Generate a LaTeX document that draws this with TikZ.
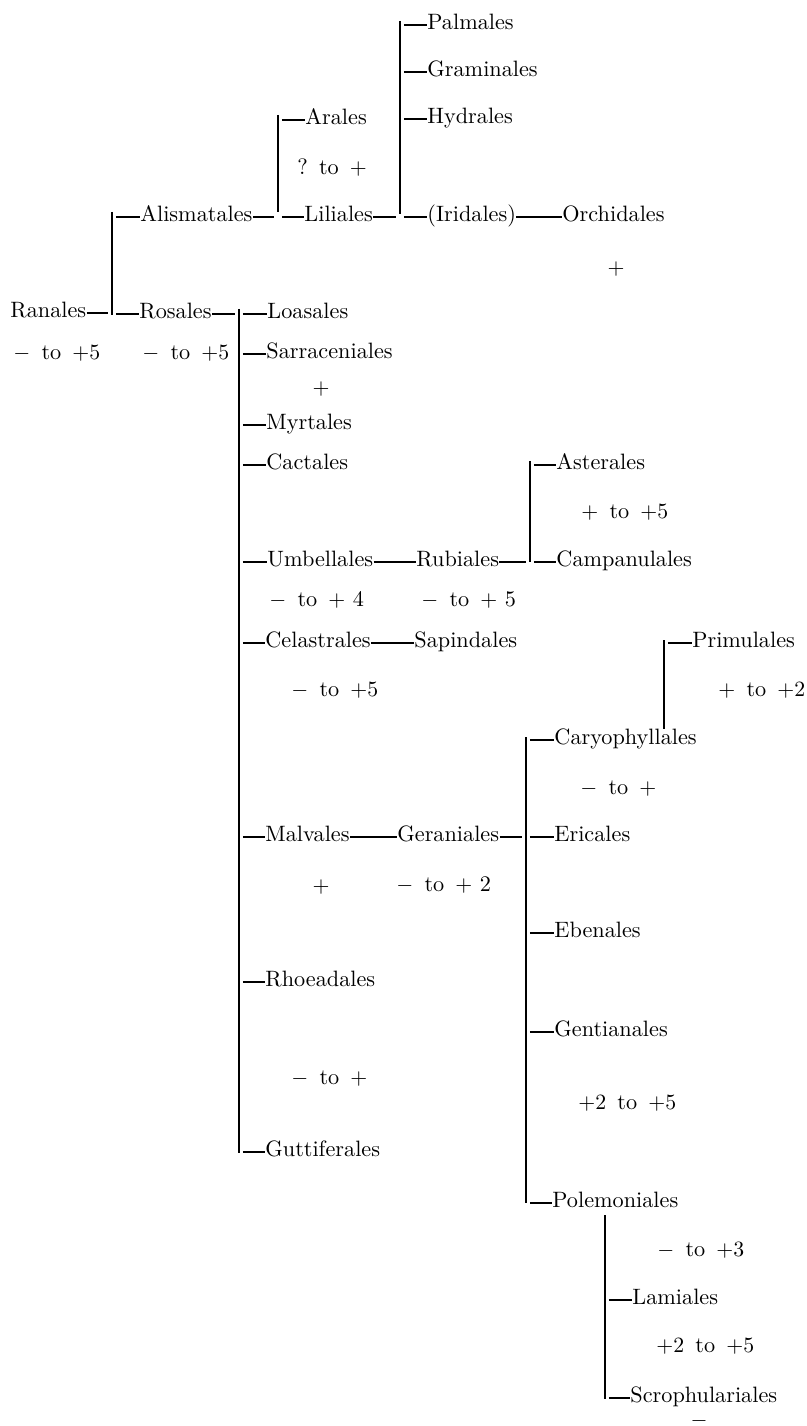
\documentclass[tikz,border=0pt]{standalone}
\usepackage{fontspec}
\begin{document}
\begin{tikzpicture}[x=0.4587pt,y=-0.4587pt,
  every node/.style={inner sep=0pt, font=\fontsize{10.2}{12}\selectfont},
  nm/.style={anchor=mid west},
  lab/.style={anchor=mid west},
  sgn/.style={anchor=center},
  vl/.style={line width=0.5pt},
  dl/.style={line width=0.6pt},
  din/.style={dl, shorten >=1.8pt},
  dout/.style={dl, shorten <=1.8pt}]
\fill[white] (0,0) rectangle (807,1426);
\useasboundingbox (0,0) rectangle (807,1426);

% ---- names ----
\node[nm] (pal) at (427,25) {Palmales};
\node[nm] (gra) at (427,72) {Graminales};
\node[nm] (hyd) at (427,119) {Hydrales};
\node[nm] (ara) at (305,120) {Arales};
\node[lab] (lara) at (297,170) {?\enspace to\enspace $+$};
\node[nm] (ali) at (140,217) {Alismatales};
\node[nm] (lil) at (304,217) {Liliales};
\node[nm] (iri) at (427,217) {(Iridales)};
\node[nm] (orc) at (562,217) {Orchidales};
\node[sgn] (lorc) at (616,269) {$+$};
\node[nm] (ran) at (10,313) {Ranales};
\node[nm] (ros) at (139,314) {Rosales};
\node[nm] (loa) at (267,314) {Loasales};
\node[lab] (lran) at (13,355) {$-$\enspace to\enspace $+5$};
\node[lab] (lros) at (142,355) {$-$\enspace to\enspace $+5$};
\node[nm] (sar) at (266,354) {Sarraceniales};
\node[sgn] (lsar) at (321,389) {$+$};
\node[nm] (myr) at (266,425) {Myrtales};
\node[nm] (cac) at (266,465) {Cactales};
\node[nm] (ast) at (556,465) {Asterales};
\node[lab] (last) at (581,514) {$+$\enspace to\enspace $+5$};
\node[nm] (umb) at (267,562) {Umbellales};
\node[nm] (rub) at (416,562) {Rubiales};
\node[nm] (cam) at (556,562) {Campanulales};
\node[lab] (lumb) at (269,602) {$-$\enspace to\enspace $+$\ 4};
\node[lab] (lrub) at (421,602) {$-$\enspace to\enspace $+$\ 5};
\node[nm] (cel) at (265,643) {Celastrales};
\node[nm] (sap) at (414,643) {Sapindales};
\node[nm] (pri) at (692,643) {Primulales};
\node[lab] (lcel) at (291,692) {$-$\enspace to\enspace $+5$};
\node[lab] (lpri) at (718,692) {$+$\enspace to\enspace $+2$};
\node[nm] (car) at (554,740) {Caryophyllales};
\node[lab] (lcar) at (580,790) {$-$\enspace to\enspace $+$};
\node[nm] (mal) at (265,837) {Malvales};
\node[nm] (ger) at (397,837) {Geraniales};
\node[nm] (eri) at (554,837) {Ericales};
\node[sgn] (lmal) at (321,887) {$+$};
\node[lab] (lger) at (396,887) {$-$\enspace to\enspace $+$\ 2};
\node[nm] (ebe) at (554,933) {Ebenales};
\node[nm] (rho) at (265,982) {Rhoeadales};
\node[nm] (gen) at (554,1032) {Gentianales};
\node[lab] (lrho) at (291,1080) {$-$\enspace to\enspace $+$};
\node[lab] (lgen) at (578,1105) {$+2$\enspace to\enspace $+5$};
\node[nm] (gut) at (265,1152) {Guttiferales};
\node[nm] (pol) at (552,1203) {Polemoniales};
\node[lab] (lpol) at (657,1252) {$-$\enspace to\enspace $+3$};
\node[nm] (lam) at (632,1300) {Lamiales};
\node[lab] (llam) at (656,1348) {$+2$\enspace to\enspace $+5$};
\node[nm] (scr) at (630,1398) {Scrophulariales};
\node[anchor=base] (lscr) at (699,1426.5) {\raisebox{0pt}[3pt][0pt]{$-$}};

% ---- vertical rules ----
\coordinate (v1t) at (112,212); \coordinate (v1b) at (112,315);
\coordinate (v2t) at (278,115); \coordinate (v2b) at (278,212);
\coordinate (v3t) at (400,21);  \coordinate (v3b) at (400,214);
\coordinate (v4t) at (239,309); \coordinate (v4b) at (239,1153);
\coordinate (v5t) at (530,461); \coordinate (v5b) at (530,562);
\coordinate (v6t) at (526,737); \coordinate (v6b) at (526,1203);
\coordinate (v7t) at (664,640);
\coordinate (v8t) at (605,1215); \coordinate (v8b) at (605,1399);

\draw[vl] (v1t) -- (v1b);
\draw[vl] (v2t) -- (v2b);
\draw[vl] (v3t) -- (v3b);
\draw[vl] (v4t) -- (v4b);
\draw[vl] (v5t) -- (v5b);
\draw[vl] (v6t) -- (v6b);
\draw[vl] (v7t) -- (v7t |- car.north);
\draw[vl] (v8t) -- (v8b);

% ---- incoming dashes ----
\draw[din] (ran.mid east) -- (ran.mid east -| v1t);
\draw[din] (ali.mid east) -- (ali.mid east -| v2t);
\draw[din] (lil.mid east) -- (lil.mid east -| v3t);
\draw[din] (ros.mid east) -- (ros.mid east -| v4t);
\draw[din] (rub.mid east) -- (rub.mid east -| v5t);
\draw[din] (ger.mid east) -- (ger.mid east -| v6t);

% ---- outgoing dashes ----
\foreach \c in {ali,ros} \draw[dout] (v1t |- \c.mid west) -- (\c.mid west);
\foreach \c in {ara,lil} \draw[dout] (v2t |- \c.mid west) -- (\c.mid west);
\foreach \c in {pal,gra,hyd,iri} \draw[dout] (v3t |- \c.mid west) -- (\c.mid west);
\foreach \c in {loa,sar,myr,cac,umb,cel,mal,rho,gut} \draw[dout] (v4t |- \c.mid west) -- (\c.mid west);
\foreach \c in {ast,cam} \draw[dout] (v5t |- \c.mid west) -- (\c.mid west);
\foreach \c in {car,eri,ebe,gen,pol} \draw[dout] (v6t |- \c.mid west) -- (\c.mid west);
\draw[dout] (v7t |- pri.mid west) -- (pri.mid west);
\foreach \c in {lam,scr} \draw[dout] (v8t |- \c.mid west) -- (\c.mid west);

% ---- long dashes ----
\draw[dl] (iri.mid east) -- (orc.mid west);
\draw[dl] (umb.mid east) -- (rub.mid west);
\draw[dl] (cel.mid east) -- (sap.mid west);
\draw[dl] (mal.mid east) -- (ger.mid west);
\end{tikzpicture}
\end{document}
